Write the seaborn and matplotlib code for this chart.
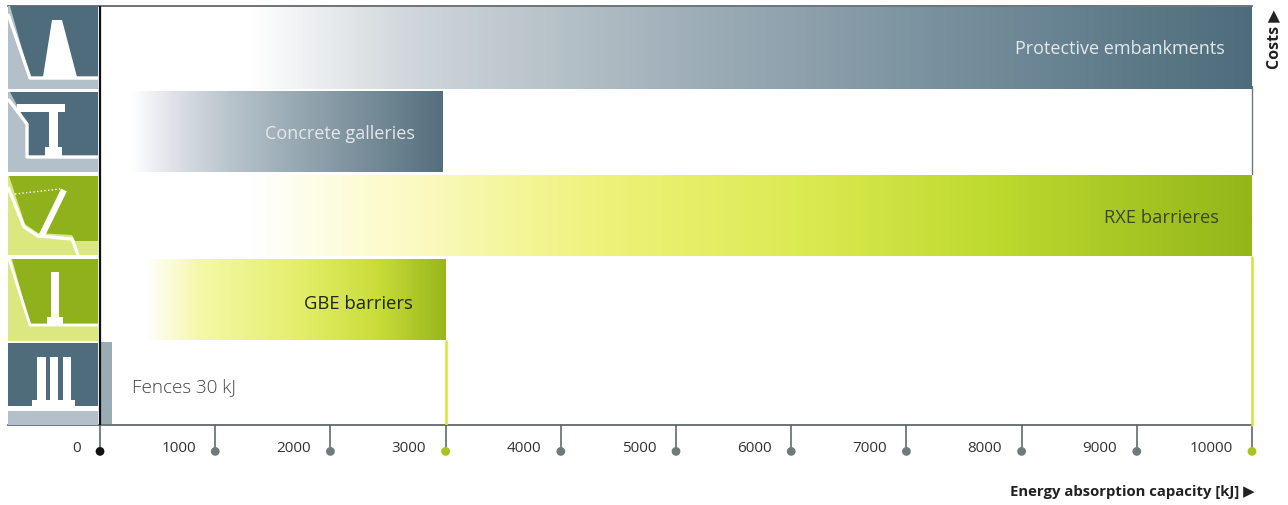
import numpy as np
import pandas as pd
import seaborn as sns
import matplotlib.pyplot as plt
from matplotlib.colors import LinearSegmentedColormap
from matplotlib.patches import Polygon, Rectangle
from matplotlib.transforms import ScaledTranslation

# data
categories = ["Protective embankments", "Concrete galleries", "RXE barrieres", "GBE barriers", "Fences 30 kJ"]
capacity = [10000, 2970, 10000, 3000, 100]
tick_values = [0, 1000, 2000, 3000, 4000, 5000, 6000, 7000, 8000, 9000, 10000]
tick_labels = ["0", "1000", "2000", "3000", "4000", "5000", "6000", "7000", "8000", "9000", "10000"]

TEAL = "#4e6c7b"
GREY = "#b3bfc9"
LIME = "#8fb21c"
PALE = "#dbe87f"
TICK_GREY = "#77807f"
YELLOW = "#d5e33a"

gradients = [
    [(0, "#ffffff"), (0.13, "#ffffff"), (0.26, "#d2d8dc"), (0.52, "#9dadb7"), (0.78, "#708a98"), (1, TEAL)],
    [(0, "#ffffff"), (0.09, "#ffffff"), (0.22, "#dde0e6"), (0.38, "#b8c4cc"), (0.58, "#96a8b2"), (1, "#566f7e")],
    [(0, "#ffffff"), (0.13, "#ffffff"), (0.26, "#fbfbc8"), (0.43, "#eff27c"), (0.61, "#dcea52"), (0.78, "#bdd92e"), (1, "#93b61a")],
    [(0, "#ffffff"), (0.13, "#ffffff"), (0.29, "#f5f8a8"), (0.58, "#e4ee6a"), (0.81, "#c8dc38"), (1, "#98b61c")],
    [(0, "#9bacb6"), (1, "#9bacb6")],
]
text_colors = ["#e4e9eb", "#e4e8ea", "#3c4a20", "#22281a", "#444444"]

sns.set_theme(style="white")
plt.rcParams["font.family"] = ["Open Sans", "DejaVu Sans"]

W, H = 1288, 506
fig = plt.figure(figsize=(W / 100, H / 100), dpi=100)
ax = fig.add_axes([8 / W, 1 - 426 / H, (1252 - 8) / W, (426 - 7) / H])

df = pd.DataFrame({"category": categories, "capacity": capacity})
sns.barplot(data=df, x="capacity", y="category", orient="h", color="white", width=0.97, ax=ax)

# gradient fills, clipped to the bars seaborn made
for patch, stops in zip(ax.patches, gradients):
    cmap = LinearSegmentedColormap.from_list("bar", stops)
    x0, y0 = patch.get_x(), patch.get_y()
    img = ax.imshow(np.linspace(0, 1, 512).reshape(1, -1), cmap=cmap, aspect="auto", zorder=2,
                    extent=[x0, x0 + patch.get_width(), y0 + patch.get_height(), y0])
    img.set_clip_path(patch)
    patch.set_edgecolor("none")

ax.set_xlim(-799, 10000)
ax.set_ylim(4.5, -0.5)

# bar labels
label_right = [9767, 2730, 9710, 2720]
label_size = [13, 13, 13.2, 13.3]
label_drop = [0.0, 0.01, 0.02, 0.04]
for i, name in enumerate(categories[:4]):
    ax.text(label_right[i], i + label_drop[i], name, ha="right", va="center", fontsize=label_size[i],
            color=text_colors[i], zorder=3)
ax.text(275, 4.04, categories[4], ha="left", va="center", fontsize=13.6, fontweight="light",
        color=text_colors[4], zorder=3)

for side in ["left", "right"]:
    ax.spines[side].set_visible(False)
ax.spines["top"].set_color("#555c5e")
ax.spines["bottom"].set_color("#555c5e")
ax.spines["top"].set_linewidth(1.2)
ax.spines["bottom"].set_linewidth(1.2)

# ticks with labels to the left of the stems
ax.set_xticks(tick_values)
ax.set_xticklabels(tick_labels, fontsize=11, color="#333333", ha="right")
ax.tick_params(axis="x", bottom=True, length=18, width=1.4, color=TICK_GREY, pad=-7)
ax.tick_params(axis="y", left=False, labelleft=False)
shift = ScaledTranslation(-14 / 72, 0, fig.dpi_scale_trans)
for lab in ax.get_xticklabels():
    lab.set_transform(lab.get_transform() + shift)

tick_colors = [YELLOW if v in (3000, 10000) else "#111111" if v == 0 else TICK_GREY for v in tick_values]
dot_colors = ["#a9c41c" if v in (3000, 10000) else "#111111" if v == 0 else "#6f7a7c" for v in tick_values]
for t, c in zip(ax.xaxis.get_major_ticks(), tick_colors):
    t.tick1line.set_color(c)
ax.scatter(tick_values, [-0.063] * len(tick_values), s=40, c=dot_colors, linewidths=0,
           transform=ax.get_xaxis_transform(), clip_on=False, zorder=5)

# vertical rules
ax.axvline(0, color="#111111", lw=1.6, zorder=6)
ax.plot([3000, 3000], [3.5, 4.5], color=YELLOW, lw=1.8, zorder=4)
ax.plot([10000, 10000], [2.5, 4.5], color=YELLOW, lw=1.8, zorder=4, clip_on=False)
ax.plot([10000, 10000], [0.45, 1.5], color="#6b7a80", lw=1, zorder=4, clip_on=False)

# axis titles
ax.set_xlabel("Energy absorption capacity [kJ] \u25b6", loc="right", fontsize=10.7, fontweight="bold",
              color="#222222", labelpad=21)
ax.xaxis.label.set_x(1.002)
ax.yaxis.set_label_position("right")
ax.set_ylabel("Costs \u25b6", loc="top", fontsize=11.5, fontweight="bold", color="#222222", labelpad=10)
ax.yaxis.label.set_y(0.993)

# pictograms down the left, drawn in pixel coordinates
icons = fig.add_axes([0, 0, 1, 1])
icons.set_xlim(0, W)
icons.set_ylim(H, 0)
icons.axis("off")


def poly(pts, color):
    icons.add_patch(Polygon(pts, closed=True, facecolor=color, edgecolor="none"))


def box(x0, y0, x1, y1, color):
    icons.add_patch(Rectangle((x0, y0), x1 - x0, y1 - y0, facecolor=color, edgecolor="none"))


def wline(xs, ys, lw=2.4, ls="-"):
    icons.plot(xs, ys, color="white", lw=lw, ls=ls, solid_capstyle="butt")


# embankment
box(8, 7, 98, 90, GREY)
poly([(10, 7), (98, 7), (98, 78), (30, 78)], TEAL)
poly([(52, 21), (62, 21), (77, 78), (43, 78)], "white")
wline([8, 30, 98], [15, 79, 79])

# gallery
box(8, 93, 98, 173, GREY)
poly([(10, 93), (98, 93), (98, 157), (27, 157), (27, 125)], TEAL)
box(17, 105, 65, 113, "white")
box(49, 113, 58, 150, "white")
box(45, 148, 62, 157, "white")
wline([8, 27, 27, 98], [100, 125, 158, 158])

# RXE barrier
box(8, 177, 98, 256, PALE)
poly([(9, 177), (98, 177), (98, 242), (75, 242), (72, 236), (38, 234), (25, 225)], LIME)
wline([8, 24, 38, 72, 78], [188, 228, 237, 240, 256])
wline([64, 42], [191, 236], lw=4.5)
wline([15, 60], [195, 190], lw=1, ls=":")

# GBE barrier
box(8, 260, 98, 342, PALE)
poly([(12, 260), (98, 260), (98, 325), (30, 325)], LIME)
wline([9, 30, 98], [260, 326, 326], lw=2)
box(51, 273, 59, 320, "white")
box(47, 318, 63, 326, "white")

# fence
box(8, 344, 98, 407, TEAL)
box(8, 412, 98, 426, GREY)
for x0, x1 in [(37, 46), (50, 58), (63, 71)]:
    box(x0, 358, x1, 402, "white")
box(32, 401, 75, 412, "white")

fig.savefig("out.png", dpi=100)
